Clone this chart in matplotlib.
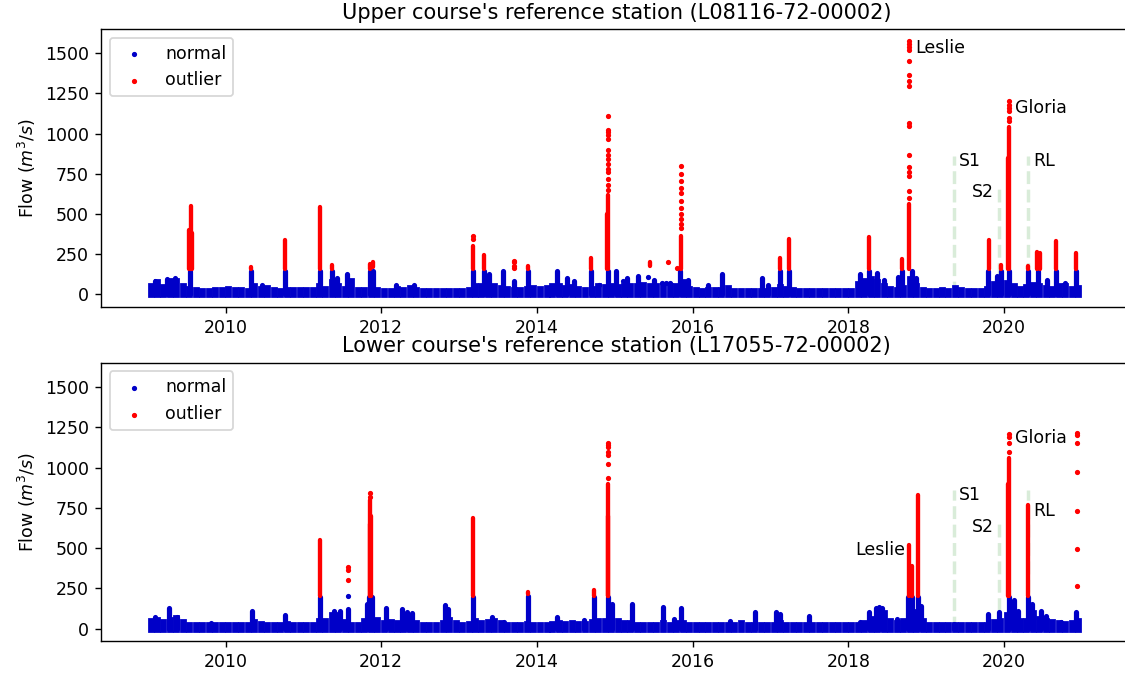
import matplotlib
matplotlib.use('Agg')
import matplotlib.pyplot as plt
import pandas as pd

# monthly upper envelope of the normal flow (m3/s), Jan 2009 .. Dec 2020
upper_base = [50, 75, 45, 80, 85, 55, 35, 25, 20, 20, 25, 30,
              35, 25, 25, 20, 55, 35, 40, 25, 20, 30, 25, 25,
              25, 25, 50, 35, 75, 55, 35, 80, 30, 25, 50, 30,
              20, 20, 35, 25, 40, 25, 20, 20, 20, 20, 20, 20,
              20, 25, 55, 55, 65, 50, 40, 35, 30, 25, 35, 40,
              35, 40, 50, 55, 40, 45, 35, 30, 35, 50, 45, 55,
              45, 50, 55, 55, 60, 50, 50, 55, 55, 50, 75, 35,
              25, 20, 30, 30, 25, 40, 20, 20, 20, 20, 20, 20,
              25, 45, 35, 25, 20, 20, 20, 20, 20, 20, 20, 20,
              20, 65, 85, 95, 75, 50, 35, 30, 40, 95, 55, 30,
              20, 20, 25, 20, 40, 25, 20, 20, 20, 35, 65, 75,
              70, 50, 35, 45, 60, 50, 40, 35, 50, 50, 35, 40]
lower_base = [50, 55, 40, 55, 65, 40, 25, 20, 20, 25, 20, 25,
              20, 20, 25, 25, 40, 30, 25, 20, 20, 30, 25, 20,
              20, 25, 50, 45, 85, 85, 40, 25, 25, 50, 75, 55,
              35, 40, 35, 50, 40, 35, 25, 20, 20, 35, 55, 35,
              25, 30, 50, 35, 40, 50, 35, 25, 20, 25, 30, 25,
              25, 25, 30, 35, 30, 35, 30, 30, 40, 45, 50, 60,
              45, 35, 35, 25, 25, 25, 25, 35, 25, 35, 35, 20,
              20, 20, 25, 20, 20, 20, 20, 35, 20, 25, 20, 20,
              20, 35, 25, 20, 20, 25, 25, 20, 20, 20, 20, 20,
              20, 25, 35, 60, 85, 95, 50, 35, 45, 125, 105, 50,
              25, 20, 20, 20, 25, 20, 20, 20, 20, 25, 40, 50,
              85, 70, 45, 50, 95, 60, 45, 40, 35, 30, 35, 45]

# short floods that stay in the normal range: (date, peak)
upper_bumps = [("2009-02-05", 85), ("2009-04-01", 95), ("2009-05-10", 100), ("2009-07-20", 145),
               ("2010-05-01", 145), ("2010-06-20", 60), ("2010-10-08", 145), ("2011-03-18", 145),
               ("2011-05-15", 145), ("2011-06-10", 100), ("2011-07-25", 125), ("2011-11-08", 145),
               ("2011-11-25", 145), ("2012-03-10", 60), ("2012-06-01", 60), ("2013-03-08", 145),
               ("2013-04-28", 145), ("2013-05-20", 125), ("2013-07-25", 145), ("2013-09-15", 85),
               ("2013-11-18", 145), ("2014-04-05", 145), ("2014-05-20", 100), ("2014-06-25", 80),
               ("2014-09-10", 145), ("2014-12-01", 145), ("2015-01-05", 145), ("2015-03-01", 100),
               ("2015-04-20", 115), ("2015-07-05", 90), ("2015-11-05", 145), ("2015-12-10", 90),
               ("2016-03-15", 60), ("2016-05-20", 125), ("2016-11-20", 100), ("2016-12-20", 60),
               ("2017-02-12", 145), ("2017-03-28", 145), ("2018-02-25", 125), ("2018-04-10", 145),
               ("2018-05-15", 135), ("2018-06-15", 90), ("2018-08-20", 105), ("2018-09-10", 145),
               ("2018-10-25", 145), ("2018-11-15", 100), ("2019-05-15", 40), ("2019-10-20", 145),
               ("2019-12-01", 115), ("2019-12-18", 145), ("2020-01-25", 145), ("2020-04-25", 145),
               ("2020-06-10", 145), ("2020-07-20", 90), ("2020-09-01", 145), ("2020-10-15", 70),
               ("2020-12-05", 145)]
lower_bumps = [("2009-02-05", 75), ("2009-04-10", 130), ("2009-05-20", 75), ("2009-10-25", 35),
               ("2010-05-05", 110), ("2010-10-08", 85), ("2011-03-18", 195), ("2011-05-25", 110),
               ("2011-06-20", 110), ("2011-07-28", 120), ("2011-10-25", 150), ("2011-11-05", 195),
               ("2011-11-20", 195), ("2012-01-25", 125), ("2012-04-10", 120), ("2012-05-01", 100),
               ("2012-05-25", 95), ("2012-10-25", 145), ("2012-11-10", 120), ("2013-03-08", 195),
               ("2013-06-05", 70), ("2013-08-01", 40), ("2013-11-18", 205), ("2014-04-05", 70),
               ("2014-08-10", 55), ("2014-09-25", 195), ("2014-12-02", 195), ("2014-12-20", 150),
               ("2015-03-25", 155), ("2015-08-15", 135), ("2015-10-05", 60), ("2015-11-08", 125),
               ("2016-06-25", 50), ("2016-10-20", 100), ("2017-01-25", 105), ("2017-02-15", 90),
               ("2017-07-01", 80), ("2018-02-25", 40), ("2018-04-10", 100), ("2018-05-10", 125),
               ("2018-05-25", 135), ("2018-06-10", 125), ("2018-08-15", 60), ("2018-10-08", 195),
               ("2018-10-25", 195), ("2018-11-25", 195), ("2018-12-10", 140), ("2019-05-12", 30),
               ("2019-10-20", 90), ("2019-12-10", 100), ("2020-01-25", 195), ("2020-02-15", 175),
               ("2020-03-05", 110), ("2020-04-25", 195), ("2020-05-10", 150), ("2020-06-25", 110),
               ("2020-07-15", 80), ("2020-09-25", 40), ("2020-12-05", 100)]
# isolated normal readings: (date, value)
upper_blue_points = [("2015-06-05", 110), ("2015-08-10", 70), ("2015-08-28", 70), ("2015-09-15", 70),
                     ("2014-10-20", 60), ("2015-02-10", 80)]
lower_blue_points = [("2011-07-28", 200)]

# dense runs of outliers: (date, lowest, highest)
upper_runs = [("2009-07-16", 160, 400), ("2009-07-22", 160, 550), ("2009-07-28", 160, 380),
              ("2010-05-02", 160, 170), ("2010-10-08", 160, 340),
              ("2011-03-18", 160, 545), ("2011-05-16", 160, 180), ("2011-11-10", 160, 190),
              ("2011-11-22", 170, 200), ("2013-03-08", 160, 300), ("2013-04-30", 160, 245),
              ("2013-11-18", 160, 175), ("2014-09-10", 160, 225), ("2014-11-28", 160, 500),
              ("2014-12-02", 160, 620),
              ("2015-06-15", 175, 200), ("2015-11-08", 160, 360), ("2017-02-15", 160, 225),
              ("2017-03-30", 160, 345), ("2018-04-10", 160, 355), ("2018-09-10", 160, 220),
              ("2018-10-14", 160, 560), ("2019-10-22", 160, 340), ("2019-12-18", 160, 185),
              ("2020-01-20", 160, 850), ("2020-01-24", 160, 1040), ("2020-04-25", 160, 175),
              ("2020-06-05", 160, 265), ("2020-06-20", 160, 255), ("2020-09-03", 160, 330),
              ("2020-12-05", 160, 255)]
lower_runs = [("2011-03-18", 200, 550), ("2011-11-08", 200, 650), ("2011-11-12", 200, 800),
              ("2011-11-16", 200, 700), ("2013-03-08", 200, 690),
              ("2013-11-18", 215, 230), ("2014-09-25", 205, 240), ("2014-11-29", 200, 700),
              ("2014-12-02", 200, 900),
              ("2018-10-14", 200, 520), ("2018-10-25", 200, 390), ("2018-11-26", 200, 830),
              ("2020-01-21", 200, 900), ("2020-01-25", 200, 1060), ("2020-04-25", 200, 770)]

# single outliers: (date, value)
upper_points = [("2013-03-08", 345), ("2013-03-08", 365), ("2013-09-16", 165), ("2013-09-16", 175),
                ("2013-09-16", 200), ("2013-09-16", 210),
                ("2014-12-02", 650), ("2014-12-02", 680), ("2014-12-02", 720), ("2014-12-02", 760),
                ("2014-12-02", 780), ("2014-12-02", 810), ("2014-12-02", 840), ("2014-12-02", 870),
                ("2014-12-02", 900), ("2014-12-02", 965), ("2014-12-02", 990), ("2014-12-02", 1010),
                ("2014-12-02", 1020), ("2014-12-02", 1110),
                ("2015-09-10", 200), ("2015-10-20", 165),
                ("2015-11-08", 414), ("2015-11-08", 440), ("2015-11-08", 466), ("2015-11-08", 500),
                ("2015-11-08", 538), ("2015-11-08", 580), ("2015-11-08", 631), ("2015-11-08", 660),
                ("2015-11-08", 704), ("2015-11-08", 750), ("2015-11-08", 797),
                ("2018-10-14", 600), ("2018-10-14", 640), ("2018-10-14", 735), ("2018-10-14", 760),
                ("2018-10-14", 795), ("2018-10-14", 870), ("2018-10-14", 1045), ("2018-10-14", 1065),
                ("2018-10-14", 1295), ("2018-10-14", 1330), ("2018-10-14", 1365), ("2018-10-14", 1450),
                ("2018-10-14", 1520), ("2018-10-14", 1540), ("2018-10-14", 1560), ("2018-10-14", 1575),
                ("2020-01-24", 1080), ("2020-01-24", 1100), ("2020-01-24", 1140), ("2020-01-24", 1160),
                ("2020-01-24", 1180), ("2020-01-24", 1200)]
lower_points = [("2011-07-28", 300), ("2011-07-28", 365), ("2011-07-28", 385),
                ("2011-11-12", 820), ("2011-11-12", 840),
                ("2014-12-02", 935), ("2014-12-02", 1020), ("2014-12-02", 1080), ("2014-12-02", 1100),
                ("2014-12-02", 1125), ("2014-12-02", 1140), ("2014-12-02", 1155),
                ("2020-01-25", 1100), ("2020-01-25", 1150), ("2020-01-25", 1190), ("2020-01-25", 1210),
                ("2020-12-08", 263), ("2020-12-08", 495), ("2020-12-08", 733), ("2020-12-08", 972),
                ("2020-12-08", 1154), ("2020-12-08", 1200), ("2020-12-08", 1215)]

# marked events (dashed lines): name, date, height
event_names = ["S1", "S2", "RL"]
event_dates = ["2019-05-11", "2019-12-08", "2020-04-23"]
upper_event_tops = [860, 680, 860]
lower_event_tops = [860, 670, 860]

months = pd.date_range("2009-01-01", periods=144, freq="MS") + pd.Timedelta(days=14)
blue = "#0000c8"
red = "red"


def plotStation(ax, base, bumps, blue_points, runs, points, tops, title):
    ev = pd.to_datetime(event_dates)
    ax.vlines(ev, 0, tops, colors="green", alpha=0.15, linestyles="--", linewidth=2.0, zorder=1)

    ax.vlines(months, 0, base, colors=blue, linewidth=3.9, capstyle="projecting", zorder=2)
    ax.vlines(pd.to_datetime([b[0] for b in bumps]), 0, [b[1] for b in bumps],
              colors=blue, linewidth=3.0, capstyle="round", zorder=2)
    ax.scatter(pd.to_datetime([p[0] for p in blue_points]), [p[1] for p in blue_points],
               s=4, color=blue, zorder=2)

    ax.vlines(pd.to_datetime([r[0] for r in runs]), [r[1] for r in runs], [r[2] for r in runs],
              colors=red, linewidth=2.5, capstyle="round", zorder=3)
    ax.scatter(pd.to_datetime([p[0] for p in points]), [p[1] for p in points],
               s=4, color=red, zorder=3)

    # legend handles
    ax.scatter([], [], s=4, color=blue, label="normal")
    ax.scatter([], [], s=4, color=red, label="outlier")
    ax.legend(loc="upper left")

    ax.set_xlim(pd.Timestamp("2008-05-27"), pd.Timestamp("2021-08-22"))
    ax.set_ylim(-77, 1651)
    ax.set_yticks([0, 250, 500, 750, 1000, 1250, 1500])
    ax.set_ylabel("Flow ($m^3/s$)")
    ax.set_title(title)


fig = plt.figure(figsize=(9, 5.424), dpi=125)
ax1 = fig.add_axes([0.0898, 0.5476, 0.9161, 0.4096])
ax2 = fig.add_axes([0.0898, 0.0546, 0.9161, 0.4103])

plotStation(ax1, upper_base, upper_bumps, upper_blue_points, upper_runs, upper_points,
            upper_event_tops, "Upper course's reference station (L08116-72-00002)")
plotStation(ax2, lower_base, lower_bumps, lower_blue_points, lower_runs, lower_points,
            lower_event_tops, "Lower course's reference station (L17055-72-00002)")

d = pd.Timestamp
ax1.text(d("2018-11-10"), 1532, "Leslie", va="center", ha="left")
ax1.text(d("2020-02-20"), 1159, "Gloria", va="center", ha="left")
ax1.text(d("2019-06-05"), 828, "S1", va="center", ha="left")
ax1.text(d("2019-11-14"), 635, "S2", va="center", ha="right")
ax1.text(d("2020-05-18"), 828, "RL", va="center", ha="left")

ax2.text(d("2018-09-24"), 487, "Leslie", va="center", ha="right")
ax2.text(d("2020-02-20"), 1185, "Gloria", va="center", ha="left")
ax2.text(d("2019-06-05"), 829, "S1", va="center", ha="left")
ax2.text(d("2019-11-14"), 632, "S2", va="center", ha="right")
ax2.text(d("2020-05-18"), 729, "RL", va="center", ha="left")

fig.savefig("out.png", dpi=125)
